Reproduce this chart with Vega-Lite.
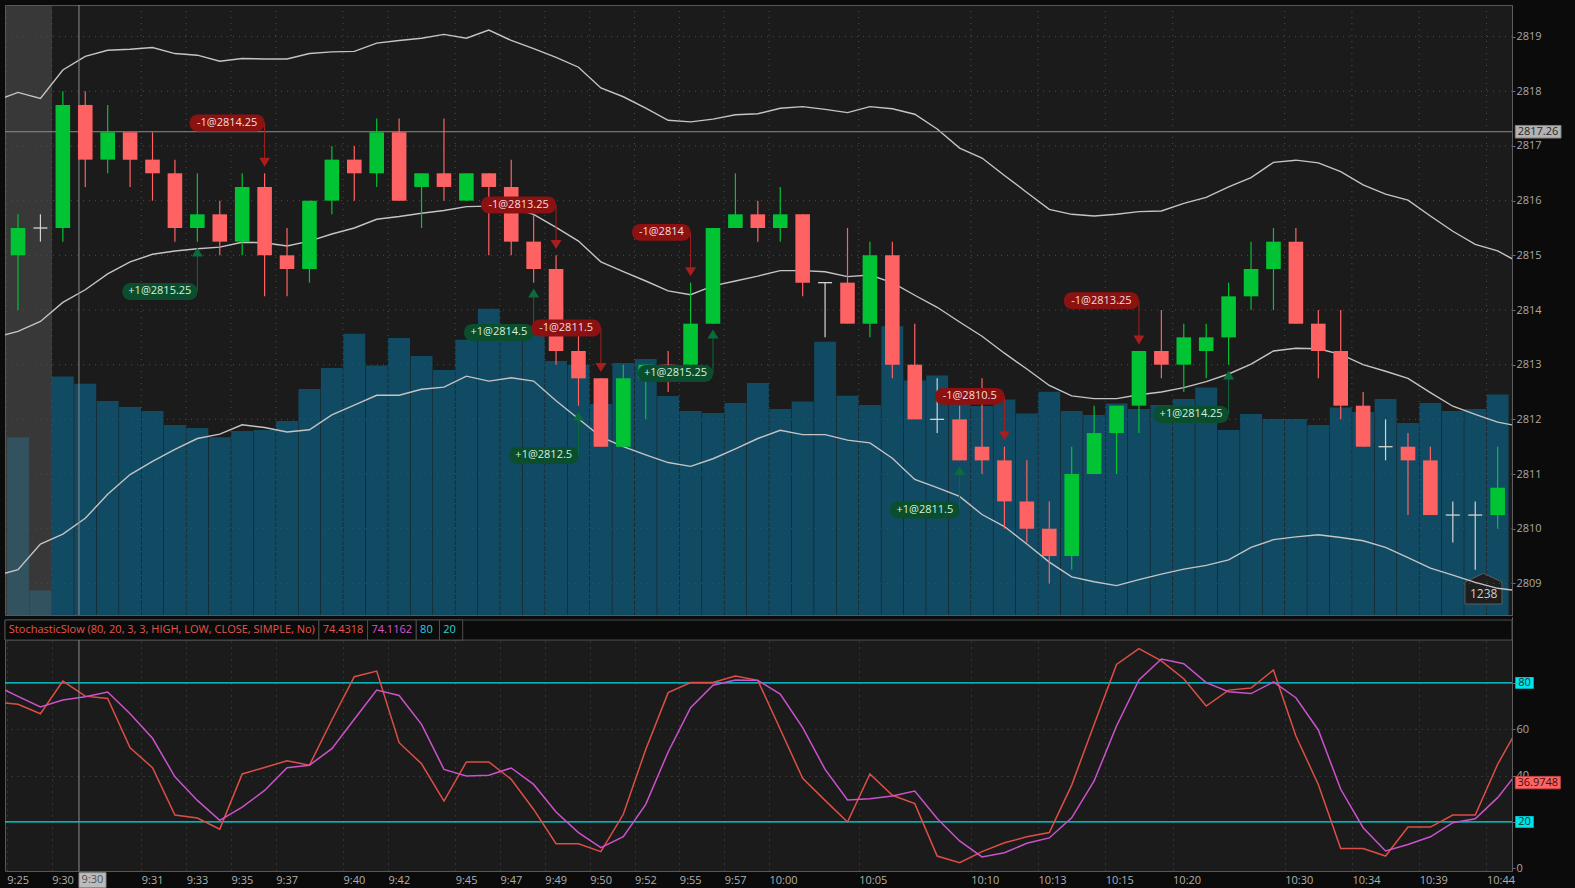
{
  "$schema": "https://vega.github.io/schema/vega-lite/v6.json",
  "background": "#0b0b0b",
  "padding": {"left": 3, "top": 4, "right": 0, "bottom": 0},
  "spacing": 0,
  "config": {
    "font": "Open Sans",
    "view": {"fill": "#1b1b1b", "stroke": "#575757"},
    "scale": {"continuousPadding": 0},
    "axis": {"labelFont": "Open Sans", "labelFontSize": 11, "labelColor": "#a9a9a9", "domainColor": "#5f5f5f", "tickColor": "#6f6f6f", "tickSize": 3, "labelPadding": 1, "gridColor": "#4d4d4d", "gridDash": [1, 5]}
  },
  "datasets": {
    "bars": [
      {"i": 0, "o": 2815, "h": 2815.75, "l": 2814, "c": 2815.5, "v": 998},
      {"i": 1, "o": 2815.5, "h": 2815.75, "l": 2815.25, "c": 2815.5, "v": 138},
      {"i": 2, "o": 2815.5, "h": 2818, "l": 2815.25, "c": 2817.75, "v": 1338},
      {"i": 3, "o": 2817.75, "h": 2818, "l": 2816.25, "c": 2816.75, "v": 1298},
      {"i": 4, "o": 2816.75, "h": 2817.75, "l": 2816.5, "c": 2817.25, "v": 1201},
      {"i": 5, "o": 2817.25, "h": 2817.25, "l": 2816.25, "c": 2816.75, "v": 1167},
      {"i": 6, "o": 2816.75, "h": 2817.25, "l": 2816, "c": 2816.5, "v": 1145},
      {"i": 7, "o": 2816.5, "h": 2816.75, "l": 2815.25, "c": 2815.5, "v": 1066},
      {"i": 8, "o": 2815.5, "h": 2816.5, "l": 2815.25, "c": 2815.75, "v": 1049},
      {"i": 9, "o": 2815.75, "h": 2816, "l": 2815, "c": 2815.25, "v": 998},
      {"i": 10, "o": 2815.25, "h": 2816.5, "l": 2815, "c": 2816.25, "v": 1032},
      {"i": 11, "o": 2816.25, "h": 2816.5, "l": 2814.25, "c": 2815, "v": 1038},
      {"i": 12, "o": 2815, "h": 2815.5, "l": 2814.25, "c": 2814.75, "v": 1088},
      {"i": 13, "o": 2814.75, "h": 2816, "l": 2814.5, "c": 2816, "v": 1268},
      {"i": 14, "o": 2816, "h": 2817, "l": 2815.75, "c": 2816.75, "v": 1386},
      {"i": 15, "o": 2816.75, "h": 2817, "l": 2816, "c": 2816.5, "v": 1578},
      {"i": 16, "o": 2816.5, "h": 2817.5, "l": 2816.25, "c": 2817.25, "v": 1400},
      {"i": 17, "o": 2817.25, "h": 2817.5, "l": 2816, "c": 2816, "v": 1555},
      {"i": 18, "o": 2816.25, "h": 2816.5, "l": 2815.5, "c": 2816.5, "v": 1454},
      {"i": 19, "o": 2816.5, "h": 2817.5, "l": 2816, "c": 2816.25, "v": 1375},
      {"i": 20, "o": 2816, "h": 2816.5, "l": 2816, "c": 2816.5, "v": 1544},
      {"i": 21, "o": 2816.5, "h": 2816.5, "l": 2815, "c": 2816.25, "v": 1718},
      {"i": 22, "o": 2816.25, "h": 2816.75, "l": 2815, "c": 2815.25, "v": 1583},
      {"i": 23, "o": 2815.25, "h": 2815.75, "l": 2814.5, "c": 2814.75, "v": 1583},
      {"i": 24, "o": 2814.75, "h": 2815, "l": 2813, "c": 2813.25, "v": 1426},
      {"i": 25, "o": 2813.25, "h": 2813.75, "l": 2812.25, "c": 2812.75, "v": 1403},
      {"i": 26, "o": 2812.75, "h": 2812.75, "l": 2811.5, "c": 2811.5, "v": 1184},
      {"i": 27, "o": 2811.5, "h": 2813, "l": 2811.5, "c": 2812.75, "v": 1414},
      {"i": 28, "o": 2812.75, "h": 2813, "l": 2812, "c": 2813, "v": 1437},
      {"i": 29, "o": 2813, "h": 2813.25, "l": 2812.5, "c": 2812.75, "v": 1229},
      {"i": 30, "o": 2813, "h": 2814.5, "l": 2813, "c": 2813.75, "v": 1145},
      {"i": 31, "o": 2813.75, "h": 2815.5, "l": 2813.75, "c": 2815.5, "v": 1133},
      {"i": 32, "o": 2815.5, "h": 2816.5, "l": 2815.5, "c": 2815.75, "v": 1190},
      {"i": 33, "o": 2815.75, "h": 2816, "l": 2815.25, "c": 2815.5, "v": 1302},
      {"i": 34, "o": 2815.5, "h": 2816.25, "l": 2815.25, "c": 2815.75, "v": 1156},
      {"i": 35, "o": 2815.75, "h": 2815.75, "l": 2814.25, "c": 2814.5, "v": 1198},
      {"i": 36, "o": 2814.5, "h": 2814.5, "l": 2813.5, "c": 2814.5, "v": 1533},
      {"i": 37, "o": 2814.5, "h": 2815.5, "l": 2813.75, "c": 2813.75, "v": 1231},
      {"i": 38, "o": 2813.75, "h": 2815.25, "l": 2813.5, "c": 2815, "v": 1178},
      {"i": 39, "o": 2815, "h": 2815.25, "l": 2812.75, "c": 2813, "v": 1620},
      {"i": 40, "o": 2813, "h": 2813.75, "l": 2812, "c": 2812, "v": 1316},
      {"i": 41, "o": 2812, "h": 2812.75, "l": 2811.75, "c": 2812, "v": 1344},
      {"i": 42, "o": 2812, "h": 2812.25, "l": 2811.25, "c": 2811.25, "v": 1206},
      {"i": 43, "o": 2811.5, "h": 2812.75, "l": 2811, "c": 2811.25, "v": 1173},
      {"i": 44, "o": 2811.25, "h": 2811.5, "l": 2810, "c": 2810.5, "v": 1209},
      {"i": 45, "o": 2810.5, "h": 2811.25, "l": 2809.75, "c": 2810, "v": 1131},
      {"i": 46, "o": 2810, "h": 2810.5, "l": 2809, "c": 2809.5, "v": 1253},
      {"i": 47, "o": 2809.5, "h": 2811.5, "l": 2809.25, "c": 2811, "v": 1145},
      {"i": 48, "o": 2811, "h": 2812.25, "l": 2811, "c": 2811.75, "v": 1122},
      {"i": 49, "o": 2811.75, "h": 2812.25, "l": 2811, "c": 2812.25, "v": 1187},
      {"i": 50, "o": 2812.25, "h": 2813.25, "l": 2811.75, "c": 2813.25, "v": 1156},
      {"i": 51, "o": 2813.25, "h": 2814, "l": 2812.75, "c": 2813, "v": 1178},
      {"i": 52, "o": 2813, "h": 2813.75, "l": 2812.5, "c": 2813.5, "v": 1212},
      {"i": 53, "o": 2813.25, "h": 2813.75, "l": 2812.75, "c": 2813.5, "v": 1276},
      {"i": 54, "o": 2813.5, "h": 2814.5, "l": 2813, "c": 2814.25, "v": 1038},
      {"i": 55, "o": 2814.25, "h": 2815.25, "l": 2814, "c": 2814.75, "v": 1128},
      {"i": 56, "o": 2814.75, "h": 2815.5, "l": 2814, "c": 2815.25, "v": 1100},
      {"i": 57, "o": 2815.25, "h": 2815.5, "l": 2813.75, "c": 2813.75, "v": 1100},
      {"i": 58, "o": 2813.75, "h": 2814, "l": 2812.75, "c": 2813.25, "v": 1066},
      {"i": 59, "o": 2813.25, "h": 2814, "l": 2812, "c": 2812.25, "v": 1164},
      {"i": 60, "o": 2812.25, "h": 2812.5, "l": 2811.5, "c": 2811.5, "v": 1139},
      {"i": 61, "o": 2811.5, "h": 2812, "l": 2811.25, "c": 2811.5, "v": 1212},
      {"i": 62, "o": 2811.5, "h": 2811.75, "l": 2810.25, "c": 2811.25, "v": 1077},
      {"i": 63, "o": 2811.25, "h": 2811.5, "l": 2810.25, "c": 2810.25, "v": 1190},
      {"i": 64, "o": 2810.25, "h": 2810.5, "l": 2809.75, "c": 2810.25, "v": 1145},
      {"i": 65, "o": 2810.25, "h": 2810.5, "l": 2809.25, "c": 2810.25, "v": 1156},
      {"i": 66, "o": 2810.25, "h": 2811.5, "l": 2810, "c": 2810.75, "v": 1238}
    ],
    "ind": [
      {"i": -1, "u": 2817.83, "m": 2813.50, "lo": 2809.14, "k": 71.8, "d": 78.8},
      {"i": 0, "u": 2817.98, "m": 2813.61, "lo": 2809.25, "k": 70.8, "d": 74.2},
      {"i": 1, "u": 2817.87, "m": 2813.79, "lo": 2809.72, "k": 66.7, "d": 69.6},
      {"i": 2, "u": 2818.39, "m": 2814.14, "lo": 2809.90, "k": 80.8, "d": 72.6},
      {"i": 3, "u": 2818.64, "m": 2814.37, "lo": 2810.19, "k": 74.3, "d": 74.0},
      {"i": 4, "u": 2818.75, "m": 2814.66, "lo": 2810.63, "k": 73.3, "d": 76.1},
      {"i": 5, "u": 2818.77, "m": 2814.88, "lo": 2810.99, "k": 52.0, "d": 66.7},
      {"i": 6, "u": 2818.80, "m": 2815.02, "lo": 2811.23, "k": 43.4, "d": 56.1},
      {"i": 7, "u": 2818.69, "m": 2815.08, "lo": 2811.45, "k": 23.0, "d": 39.5},
      {"i": 8, "u": 2818.66, "m": 2815.12, "lo": 2811.65, "k": 21.7, "d": 29.3},
      {"i": 9, "u": 2818.55, "m": 2815.15, "lo": 2811.73, "k": 16.9, "d": 20.7},
      {"i": 10, "u": 2818.60, "m": 2815.24, "lo": 2811.90, "k": 40.7, "d": 26.4},
      {"i": 11, "u": 2818.59, "m": 2815.23, "lo": 2811.85, "k": 43.5, "d": 33.6},
      {"i": 12, "u": 2818.59, "m": 2815.17, "lo": 2811.77, "k": 46.4, "d": 43.4},
      {"i": 13, "u": 2818.69, "m": 2815.26, "lo": 2811.81, "k": 44.5, "d": 44.5},
      {"i": 14, "u": 2818.72, "m": 2815.39, "lo": 2812.08, "k": 64.0, "d": 51.6},
      {"i": 15, "u": 2818.73, "m": 2815.50, "lo": 2812.26, "k": 82.7, "d": 64.3},
      {"i": 16, "u": 2818.88, "m": 2815.66, "lo": 2812.44, "k": 85.1, "d": 76.9},
      {"i": 17, "u": 2818.93, "m": 2815.71, "lo": 2812.44, "k": 54.2, "d": 74.6},
      {"i": 18, "u": 2818.97, "m": 2815.77, "lo": 2812.55, "k": 45.1, "d": 62.1},
      {"i": 19, "u": 2819.04, "m": 2815.82, "lo": 2812.59, "k": 29.0, "d": 42.7},
      {"i": 20, "u": 2818.97, "m": 2815.89, "lo": 2812.79, "k": 45.9, "d": 39.8},
      {"i": 21, "u": 2819.12, "m": 2815.90, "lo": 2812.70, "k": 45.9, "d": 40.2},
      {"i": 22, "u": 2818.93, "m": 2815.87, "lo": 2812.76, "k": 38.4, "d": 43.3},
      {"i": 23, "u": 2818.78, "m": 2815.75, "lo": 2812.70, "k": 25.4, "d": 36.2},
      {"i": 24, "u": 2818.62, "m": 2815.51, "lo": 2812.34, "k": 10.6, "d": 24.3},
      {"i": 25, "u": 2818.44, "m": 2815.26, "lo": 2812.01, "k": 10.6, "d": 15.4},
      {"i": 26, "u": 2818.06, "m": 2814.88, "lo": 2811.68, "k": 7.2, "d": 8.9},
      {"i": 27, "u": 2817.90, "m": 2814.70, "lo": 2811.50, "k": 23.3, "d": 13.6},
      {"i": 28, "u": 2817.69, "m": 2814.53, "lo": 2811.35, "k": 51.3, "d": 27.6},
      {"i": 29, "u": 2817.47, "m": 2814.35, "lo": 2811.21, "k": 75.8, "d": 50.2},
      {"i": 30, "u": 2817.44, "m": 2814.28, "lo": 2811.14, "k": 80.2, "d": 69.3},
      {"i": 31, "u": 2817.49, "m": 2814.44, "lo": 2811.28, "k": 80.2, "d": 79.0},
      {"i": 32, "u": 2817.57, "m": 2814.53, "lo": 2811.46, "k": 83.0, "d": 81.3},
      {"i": 33, "u": 2817.59, "m": 2814.62, "lo": 2811.65, "k": 81.1, "d": 81.1},
      {"i": 34, "u": 2817.69, "m": 2814.72, "lo": 2811.80, "k": 60.0, "d": 75.2},
      {"i": 35, "u": 2817.72, "m": 2814.72, "lo": 2811.72, "k": 38.8, "d": 60.7},
      {"i": 36, "u": 2817.67, "m": 2814.70, "lo": 2811.72, "k": 29.3, "d": 42.7},
      {"i": 37, "u": 2817.61, "m": 2814.61, "lo": 2811.62, "k": 20.0, "d": 29.5},
      {"i": 38, "u": 2817.72, "m": 2814.64, "lo": 2811.57, "k": 40.7, "d": 30.0},
      {"i": 39, "u": 2817.68, "m": 2814.50, "lo": 2811.29, "k": 31.5, "d": 31.2},
      {"i": 40, "u": 2817.58, "m": 2814.27, "lo": 2810.90, "k": 27.9, "d": 33.3},
      {"i": 41, "u": 2817.31, "m": 2814.05, "lo": 2810.75, "k": 5.3, "d": 21.5},
      {"i": 42, "u": 2816.96, "m": 2813.78, "lo": 2810.59, "k": 2.4, "d": 11.8},
      {"i": 43, "u": 2816.78, "m": 2813.52, "lo": 2810.26, "k": 7.2, "d": 4.9},
      {"i": 44, "u": 2816.46, "m": 2813.21, "lo": 2810.04, "k": 11.0, "d": 6.7},
      {"i": 45, "u": 2816.15, "m": 2812.92, "lo": 2809.72, "k": 13.6, "d": 10.8},
      {"i": 46, "u": 2815.84, "m": 2812.62, "lo": 2809.39, "k": 15.4, "d": 13.1},
      {"i": 47, "u": 2815.75, "m": 2812.43, "lo": 2809.12, "k": 35.9, "d": 21.8},
      {"i": 48, "u": 2815.72, "m": 2812.38, "lo": 2809.03, "k": 62.1, "d": 37.7},
      {"i": 49, "u": 2815.75, "m": 2812.38, "lo": 2808.96, "k": 88.0, "d": 61.4},
      {"i": 50, "u": 2815.80, "m": 2812.45, "lo": 2809.07, "k": 94.8, "d": 81.3},
      {"i": 51, "u": 2815.81, "m": 2812.50, "lo": 2809.17, "k": 89.5, "d": 90.3},
      {"i": 52, "u": 2815.95, "m": 2812.58, "lo": 2809.26, "k": 81.8, "d": 88.3},
      {"i": 53, "u": 2816.06, "m": 2812.69, "lo": 2809.33, "k": 70.0, "d": 80.1},
      {"i": 54, "u": 2816.25, "m": 2812.83, "lo": 2809.43, "k": 76.9, "d": 76.2},
      {"i": 55, "u": 2816.42, "m": 2813.01, "lo": 2809.66, "k": 77.8, "d": 75.4},
      {"i": 56, "u": 2816.70, "m": 2813.25, "lo": 2809.80, "k": 85.6, "d": 80.4},
      {"i": 57, "u": 2816.74, "m": 2813.30, "lo": 2809.85, "k": 57.1, "d": 73.6},
      {"i": 58, "u": 2816.69, "m": 2813.29, "lo": 2809.89, "k": 36.2, "d": 59.7},
      {"i": 59, "u": 2816.53, "m": 2813.19, "lo": 2809.84, "k": 8.5, "d": 34.1},
      {"i": 60, "u": 2816.29, "m": 2813.00, "lo": 2809.78, "k": 8.5, "d": 17.5},
      {"i": 61, "u": 2816.12, "m": 2812.88, "lo": 2809.66, "k": 5.3, "d": 7.5},
      {"i": 62, "u": 2816.01, "m": 2812.75, "lo": 2809.47, "k": 17.8, "d": 10.3},
      {"i": 63, "u": 2815.72, "m": 2812.49, "lo": 2809.28, "k": 17.8, "d": 13.6},
      {"i": 64, "u": 2815.44, "m": 2812.24, "lo": 2809.15, "k": 23.0, "d": 19.7},
      {"i": 65, "u": 2815.20, "m": 2812.09, "lo": 2809.02, "k": 23.0, "d": 21.4},
      {"i": 66, "u": 2815.08, "m": 2811.95, "lo": 2808.91, "k": 44.9, "d": 30.5},
      {"i": 67, "u": 2814.86, "m": 2811.87, "lo": 2808.86, "k": 62.1, "d": 42.8}
    ],
    "ticks": [
      {"t": -0.5}, {"t": 1.5}, {"t": 5.5}, {"t": 7.5}, {"t": 9.5}, {"t": 11.5}, {"t": 14.5}, {"t": 16.5},
      {"t": 19.5}, {"t": 21.5}, {"t": 23.5}, {"t": 25.5}, {"t": 27.5}, {"t": 29.5}, {"t": 31.5}, {"t": 33.5},
      {"t": 37.5}, {"t": 42.5}, {"t": 45.5}, {"t": 48.5}, {"t": 51.5}, {"t": 56.5}, {"t": 59.5}, {"t": 62.5}, {"t": 65.5}
    ],
    "trades": [
      {"i": 8, "side": "buy", "qty": 1, "price": 2815.25},
      {"i": 11, "side": "sell", "qty": 1, "price": 2814.25},
      {"i": 23, "side": "buy", "qty": 1, "price": 2814.5},
      {"i": 24, "side": "sell", "qty": 1, "price": 2813.25},
      {"i": 25, "side": "buy", "qty": 1, "price": 2812.5},
      {"i": 26, "side": "sell", "qty": 1, "price": 2811.5},
      {"i": 30, "side": "sell", "qty": 1, "price": 2814},
      {"i": 31, "side": "buy", "qty": 1, "price": 2815.25},
      {"i": 42, "side": "buy", "qty": 1, "price": 2811.5},
      {"i": 44, "side": "sell", "qty": 1, "price": 2810.5},
      {"i": 50, "side": "sell", "qty": 1, "price": 2813.25},
      {"i": 54, "side": "buy", "qty": 1, "price": 2814.25}
    ],
    "crosshair": [{"i": 2.72, "p": 2817.26, "t": "9:30"}],
    "sessions": [{"start": -1, "end": 1.52, "session": "pre-market"}],
    "stochLegend": [
      {"n": 0, "label": "StochasticSlow (80, 20, 3, 3, HIGH, LOW, CLOSE, SIMPLE, No)", "role": "name"},
      {"n": 1, "label": "74.4318", "role": "k"},
      {"n": 2, "label": "74.1162", "role": "d"},
      {"n": 3, "label": "80", "role": "level"},
      {"n": 4, "label": "20", "role": "level"}
    ],
    "levels": [{"v": 80}, {"v": 20}],
    "readout": [{"v": 36.9748}]
  },
  "vconcat": [
    {
      "width": 1507,
      "height": 610,
      "resolve": {"scale": {"y": "independent"}},
      "layer": [
        {
          "data": {"name": "bars"},
          "layer": [
            {
              "mark": {"type": "bar", "size": 21.9, "color": "#114a63"},
              "encoding": {
                "x": {"field": "i", "type": "quantitative", "scale": {"domain": [-0.58, 66.64], "nice": false, "zero": false, "padding": 0}, "axis": null},
                "y": {"field": "v", "type": "quantitative", "scale": {"domain": [0, 3423], "nice": false}, "axis": null}
              }
            },
            {
              "transform": [{"filter": "datum.i === 66"}],
              "mark": {"type": "point", "shape": "M -3.27 -1.1 L -3.27 -3.3 L -1.42 -4.17 L 0.43 -3.3 L 0.43 -1.1 Z", "size": 400, "filled": true, "fill": "#1e1e1e", "stroke": "#5c5c5c", "strokeWidth": 1, "opacity": 1},
              "encoding": {
                "x": {"field": "i", "type": "quantitative", "scale": {"domain": [-0.58, 66.64], "nice": false, "zero": false, "padding": 0}, "axis": null},
                "y": {"datum": 0, "type": "quantitative", "scale": {"domain": [0, 3423], "nice": false}, "axis": null}
              }
            },
            {
              "transform": [{"filter": "datum.i === 66"}],
              "mark": {"type": "text", "dx": -14, "dy": -21, "align": "center", "baseline": "middle", "fontSize": 12, "color": "#d0d0d0"},
              "encoding": {
                "x": {"field": "i", "type": "quantitative", "scale": {"domain": [-0.58, 66.64], "nice": false, "zero": false, "padding": 0}, "axis": null},
                "y": {"datum": 0, "type": "quantitative", "scale": {"domain": [0, 3423], "nice": false}, "axis": null},
                "text": {"field": "v", "type": "quantitative", "format": "d"}
              }
            }
          ]
        },
        {
          "layer": [
            {
              "data": {"name": "sessions"},
              "mark": {"type": "rect", "color": "#5e5e5e", "opacity": 0.45, "clip": true},
              "encoding": {
                "x": {"field": "start", "type": "quantitative", "scale": {"domain": [-0.58, 66.64], "nice": false, "zero": false, "padding": 0}, "axis": null},
                "x2": {"field": "end"}
              }
            },
            {
              "data": {"values": [{"p": 2809}, {"p": 2810}, {"p": 2811}, {"p": 2812}, {"p": 2813}, {"p": 2814}, {"p": 2815}, {"p": 2816}, {"p": 2817}, {"p": 2818}, {"p": 2819}]},
              "mark": {"type": "rule", "color": "#4d4d4d", "strokeDash": [1, 5]},
              "encoding": {
                "y": {"field": "p", "type": "quantitative", "scale": {"domain": [2808.422, 2819.578], "nice": false, "zero": false},
                  "axis": {"orient": "right", "title": null, "values": [2809, 2810, 2811, 2812, 2813, 2814, 2815, 2816, 2817, 2818, 2819], "format": "d", "grid": false, "minExtent": 65, "maxExtent": 65}}
              }
            },
            {
              "data": {"name": "ticks"},
              "mark": {"type": "rule", "color": "#4d4d4d", "strokeDash": [1, 5]},
              "encoding": {
                "x": {"field": "t", "type": "quantitative", "scale": {"domain": [-0.58, 66.64], "nice": false, "zero": false, "padding": 0}, "axis": null}
              }
            },
            {
              "data": {"name": "ind"},
              "transform": [{"fold": ["u", "m", "lo"], "as": ["band", "val"]}],
              "mark": {"type": "line", "color": "#c4c4c4", "strokeWidth": 1.4, "clip": true},
              "encoding": {
                "x": {"field": "i", "type": "quantitative", "scale": {"domain": [-0.58, 66.64], "nice": false, "zero": false, "padding": 0}, "axis": null},
                "y": {"field": "val", "type": "quantitative", "scale": {"domain": [2808.422, 2819.578], "nice": false, "zero": false}},
                "detail": {"field": "band"}
              }
            },
            {
              "data": {"name": "crosshair"},
              "layer": [
                {
                  "mark": {"type": "rule", "color": "#8c8c8c"},
                  "encoding": {"y": {"field": "p", "type": "quantitative", "scale": {"domain": [2808.422, 2819.578], "nice": false, "zero": false}}}
                },
                {
                  "mark": {"type": "rule", "color": "#8c8c8c"},
                  "encoding": {"x": {"field": "i", "type": "quantitative", "scale": {"domain": [-0.58, 66.64], "nice": false, "zero": false, "padding": 0}, "axis": null}}
                }
              ]
            },
            {
              "data": {"name": "bars"},
              "layer": [
                {
                  "mark": {"type": "rule", "strokeWidth": 1.2},
                  "encoding": {
                    "x": {"field": "i", "type": "quantitative", "scale": {"domain": [-0.58, 66.64], "nice": false, "zero": false, "padding": 0}, "axis": null},
                    "y": {"field": "l", "type": "quantitative", "scale": {"domain": [2808.422, 2819.578], "nice": false, "zero": false}},
                    "y2": {"field": "h"},
                    "color": {"condition": [{"test": "datum.c > datum.o", "value": "#00c434"}, {"test": "datum.c < datum.o", "value": "#ff6262"}], "value": "#d4d4d4"}
                  }
                },
                {
                  "transform": [{"filter": "datum.o !== datum.c"}],
                  "mark": {"type": "bar", "size": 14.6},
                  "encoding": {
                    "x": {"field": "i", "type": "quantitative", "scale": {"domain": [-0.58, 66.64], "nice": false, "zero": false, "padding": 0}, "axis": null},
                    "y": {"field": "o", "type": "quantitative", "scale": {"domain": [2808.422, 2819.578], "nice": false, "zero": false}},
                    "y2": {"field": "c"},
                    "color": {"condition": [{"test": "datum.c > datum.o", "value": "#00c434"}, {"test": "datum.c < datum.o", "value": "#ff6262"}], "value": "#d4d4d4"}
                  }
                },
                {
                  "transform": [{"filter": "datum.o === datum.c"}],
                  "mark": {"type": "tick", "orient": "horizontal", "size": 14, "thickness": 1.3, "opacity": 1, "color": "#d4d4d4"},
                  "encoding": {
                    "x": {"field": "i", "type": "quantitative", "scale": {"domain": [-0.58, 66.64], "nice": false, "zero": false, "padding": 0}, "axis": null},
                    "y": {"field": "c", "type": "quantitative", "scale": {"domain": [2808.422, 2819.578], "nice": false, "zero": false}}
                  }
                }
              ]
            },
            {
              "data": {"name": "trades"},
              "transform": [
                {"lookup": "i", "from": {"data": {"name": "bars"}, "key": "i", "fields": ["h", "l"]}},
                {"calculate": "(datum.side === 'sell' ? '-' : '+') + datum.qty + '@' + datum.price", "as": "label"},
                {"calculate": "datum.side === 'sell' ? datum.h + 0.2 : datum.l - 0.19", "as": "arrowY"},
                {"calculate": "datum.side === 'sell' ? datum.arrowY + 0.72 : datum.arrowY - 0.72", "as": "tagY"},
                {"calculate": "(5.5 * length(datum.label) + 20) / 22.42", "as": "w"},
                {"calculate": "datum.i - datum.w", "as": "x0"},
                {"calculate": "datum.i - datum.w / 2", "as": "xm"},
                {"calculate": "datum.tagY - 0.155", "as": "ty0"},
                {"calculate": "datum.tagY + 0.155", "as": "ty1"}
              ],
              "layer": [
                {
                  "mark": {"type": "rule", "strokeWidth": 1},
                  "encoding": {
                    "x": {"field": "i", "type": "quantitative", "scale": {"domain": [-0.58, 66.64], "nice": false, "zero": false, "padding": 0}, "axis": null},
                    "y": {"field": "tagY", "type": "quantitative", "scale": {"domain": [2808.422, 2819.578], "nice": false, "zero": false}},
                    "y2": {"field": "arrowY"},
                    "color": {"condition": {"test": "datum.side === 'sell'", "value": "#a81e1e"}, "value": "#0c6b3c"}
                  }
                },
                {
                  "mark": {"type": "point", "size": 100, "filled": true, "opacity": 1},
                  "encoding": {
                    "x": {"field": "i", "type": "quantitative", "scale": {"domain": [-0.58, 66.64], "nice": false, "zero": false, "padding": 0}, "axis": null},
                    "y": {"field": "arrowY", "type": "quantitative", "scale": {"domain": [2808.422, 2819.578], "nice": false, "zero": false}},
                    "shape": {"condition": {"test": "datum.side === 'sell'", "value": "M -1.1 -0.9 L 1.1 -0.9 L 0 0.9 Z"}, "value": "M -1.1 0.9 L 1.1 0.9 L 0 -0.9 Z"},
                    "color": {"condition": {"test": "datum.side === 'sell'", "value": "#a81e1e"}, "value": "#0c6b3c"}
                  }
                },
                {
                  "mark": {"type": "rect", "cornerRadius": 8},
                  "encoding": {
                    "x": {"field": "x0", "type": "quantitative", "scale": {"domain": [-0.58, 66.64], "nice": false, "zero": false, "padding": 0}, "axis": null},
                    "x2": {"field": "i"},
                    "y": {"field": "ty0", "type": "quantitative", "scale": {"domain": [2808.422, 2819.578], "nice": false, "zero": false}},
                    "y2": {"field": "ty1"},
                    "color": {"condition": {"test": "datum.side === 'sell'", "value": "#8c1212"}, "value": "#0b4e2d"}
                  }
                },
                {
                  "mark": {"type": "text", "fontSize": 11, "align": "center", "baseline": "middle"},
                  "encoding": {
                    "x": {"field": "xm", "type": "quantitative", "scale": {"domain": [-0.58, 66.64], "nice": false, "zero": false, "padding": 0}, "axis": null},
                    "y": {"field": "tagY", "type": "quantitative", "scale": {"domain": [2808.422, 2819.578], "nice": false, "zero": false}},
                    "text": {"field": "label", "type": "nominal"},
                    "color": {"condition": {"test": "datum.side === 'sell'", "value": "#f5dede"}, "value": "#d6f0de"}
                  }
                }
              ]
            },
            {
              "data": {"name": "crosshair"},
              "layer": [
                {
                  "mark": {"type": "point", "shape": "M 0.33 -0.63 L 4.9 -0.63 L 4.9 0.63 L 0.33 0.63 Z", "size": 400, "filled": true, "fill": "#b3b3b3", "stroke": "#808080", "strokeWidth": 1, "opacity": 1},
                  "encoding": {
                    "x": {"datum": 66.64, "type": "quantitative", "scale": {"domain": [-0.58, 66.64], "nice": false, "zero": false, "padding": 0}, "axis": null},
                    "y": {"field": "p", "type": "quantitative", "scale": {"domain": [2808.422, 2819.578], "nice": false, "zero": false}}
                  }
                },
                {
                  "mark": {"type": "text", "dx": 26, "fontSize": 11, "color": "#262626", "align": "center", "baseline": "middle"},
                  "encoding": {
                    "x": {"datum": 66.64, "type": "quantitative", "scale": {"domain": [-0.58, 66.64], "nice": false, "zero": false, "padding": 0}, "axis": null},
                    "y": {"field": "p", "type": "quantitative", "scale": {"domain": [2808.422, 2819.578], "nice": false, "zero": false}},
                    "text": {"field": "p", "type": "quantitative", "format": ".2f"}
                  }
                }
              ]
            }
          ]
        }
      ]
    },
    {
      "width": 1507,
      "height": 254,
      "layer": [
        {
          "data": {"values": [{"bottom": 98.5, "top": 108.45}]},
          "mark": {"type": "rect", "color": "#0b0b0b"},
          "encoding": {
            "y": {"field": "bottom", "type": "quantitative", "scale": {"domain": [-1.17, 108.45], "nice": false, "zero": false}},
            "y2": {"field": "top"}
          }
        },
        {
          "data": {"values": [{"bottom": 98.5, "top": 107.15}]},
          "mark": {"type": "rect", "fill": "#0b0b0b", "stroke": "#4f4f4f", "strokeWidth": 1},
          "encoding": {
            "y": {"field": "bottom", "type": "quantitative", "scale": {"domain": [-1.17, 108.45], "nice": false, "zero": false}},
            "y2": {"field": "top"}
          }
        },
        {
          "data": {"name": "stochLegend"},
          "transform": [
            {"calculate": "(5.1 * length(datum.label) + 13) / 22.42", "as": "w"},
            {"window": [{"op": "sum", "field": "w", "as": "cum"}], "sort": [{"field": "n"}], "frame": [null, 0]},
            {"calculate": "-0.58 + datum.cum", "as": "x1"},
            {"calculate": "datum.x1 - datum.w", "as": "x0"},
            {"calculate": "datum.x0 + 0.17", "as": "xt"}
          ],
          "layer": [
            {
              "mark": {"type": "rect", "fill": "#0b0b0b", "stroke": "#4f4f4f", "strokeWidth": 1},
              "encoding": {
                "x": {"field": "x0", "type": "quantitative", "scale": {"domain": [-0.58, 66.64], "nice": false, "zero": false, "padding": 0}},
                "x2": {"field": "x1"},
                "y": {"datum": 98.5, "type": "quantitative", "scale": {"domain": [-1.17, 108.45], "nice": false, "zero": false}},
                "y2": {"datum": 107.15}
              }
            },
            {
              "mark": {"type": "text", "align": "left", "baseline": "middle", "fontSize": 11},
              "encoding": {
                "x": {"field": "xt", "type": "quantitative", "scale": {"domain": [-0.58, 66.64], "nice": false, "zero": false, "padding": 0}},
                "y": {"datum": 102.8, "type": "quantitative", "scale": {"domain": [-1.17, 108.45], "nice": false, "zero": false}},
                "text": {"field": "label", "type": "nominal"},
                "color": {"condition": [{"test": "datum.role === 'd'", "value": "#d457d4"}, {"test": "datum.role === 'level'", "value": "#2ed0dc"}], "value": "#e4554c"}
              }
            }
          ]
        },
        {
          "data": {"name": "levels"},
          "mark": {"type": "rule", "color": "#00e3e8", "strokeWidth": 1.3},
          "encoding": {
            "y": {"field": "v", "type": "quantitative", "scale": {"domain": [-1.17, 108.45], "nice": false, "zero": false}}
          }
        },
        {
          "data": {"name": "ind"},
          "layer": [
            {
              "mark": {"type": "line", "color": "#dd4f46", "strokeWidth": 1.5, "clip": true},
              "encoding": {
                "x": {"field": "i", "type": "quantitative", "scale": {"domain": [-0.58, 66.64], "nice": false, "zero": false, "padding": 0},
                  "axis": {"orient": "bottom", "title": null, "values": [-0.5, 1.5, 5.5, 7.5, 9.5, 11.5, 14.5, 16.5, 19.5, 21.5, 23.5, 25.5, 27.5, 29.5, 31.5, 33.5, 37.5, 42.5, 45.5, 48.5, 51.5, 56.5, 59.5, 62.5, 65.5],
                    "labelExpr": "['9:25','9:30','9:31','9:33','9:35','9:37','9:40','9:42','9:45','9:47','9:49','9:50','9:52','9:55','9:57','10:00','10:05','10:10','10:13','10:15','10:20','10:30','10:34','10:39','10:44'][indexof([-0.5,1.5,5.5,7.5,9.5,11.5,14.5,16.5,19.5,21.5,23.5,25.5,27.5,29.5,31.5,33.5,37.5,42.5,45.5,48.5,51.5,56.5,59.5,62.5,65.5], datum.value)]",
                    "grid": true, "ticks": false, "domain": false, "labelAlign": "left", "labelBaseline": "top", "labelDx": 1, "labelPadding": 3, "labelColor": "#b0b0b0", "labelOverlap": false, "labelFlush": false, "minExtent": 20, "maxExtent": 20}},
                "y": {"field": "k", "type": "quantitative", "scale": {"domain": [-1.17, 108.45], "nice": false, "zero": false},
                  "axis": {"orient": "right", "title": null, "values": [0, 20, 40, 60, 80], "grid": true,
                    "gridOpacity": {"condition": {"test": "datum.value === 40 || datum.value === 60", "value": 1}, "value": 0},
                    "minExtent": 65, "maxExtent": 65}}
              }
            },
            {
              "mark": {"type": "line", "color": "#cc52cc", "strokeWidth": 1.5, "clip": true},
              "encoding": {
                "x": {"field": "i", "type": "quantitative", "scale": {"domain": [-0.58, 66.64], "nice": false, "zero": false, "padding": 0}},
                "y": {"field": "d", "type": "quantitative", "scale": {"domain": [-1.17, 108.45], "nice": false, "zero": false}}
              }
            }
          ]
        },
        {
          "data": {"name": "crosshair"},
          "layer": [
            {
              "mark": {"type": "rule", "color": "#8c8c8c"},
              "encoding": {
                "x": {"field": "i", "type": "quantitative", "scale": {"domain": [-0.58, 66.64], "nice": false, "zero": false, "padding": 0}},
                "y": {"datum": -1.17, "type": "quantitative", "scale": {"domain": [-1.17, 108.45], "nice": false, "zero": false}},
                "y2": {"datum": 98.5}
              }
            },
            {
              "mark": {"type": "point", "shape": "M 0 0.17 L 2.7 0.17 L 2.7 1.67 L 0 1.67 Z", "size": 400, "filled": true, "fill": "#bcbcbc", "stroke": "#8a8a8a", "strokeWidth": 1, "opacity": 1},
              "encoding": {
                "x": {"field": "i", "type": "quantitative", "scale": {"domain": [-0.58, 66.64], "nice": false, "zero": false, "padding": 0}},
                "y": {"datum": -1.17, "type": "quantitative", "scale": {"domain": [-1.17, 108.45], "nice": false, "zero": false}}
              }
            },
            {
              "mark": {"type": "text", "dx": 13.5, "dy": 9.4, "align": "center", "baseline": "middle", "fontSize": 11, "color": "#505050"},
              "encoding": {
                "x": {"field": "i", "type": "quantitative", "scale": {"domain": [-0.58, 66.64], "nice": false, "zero": false, "padding": 0}},
                "y": {"datum": -1.17, "type": "quantitative", "scale": {"domain": [-1.17, 108.45], "nice": false, "zero": false}},
                "text": {"field": "t", "type": "nominal"}
              }
            }
          ]
        },
        {
          "data": {"name": "levels"},
          "layer": [
            {
              "mark": {"type": "point", "shape": "M 0.33 -0.58 L 2.17 -0.58 L 2.17 0.58 L 0.33 0.58 Z", "size": 400, "filled": true, "fill": "#00e3e8", "opacity": 1},
              "encoding": {
                "x": {"datum": 66.64, "type": "quantitative", "scale": {"domain": [-0.58, 66.64], "nice": false, "zero": false, "padding": 0}},
                "y": {"field": "v", "type": "quantitative", "scale": {"domain": [-1.17, 108.45], "nice": false, "zero": false}}
              }
            },
            {
              "mark": {"type": "text", "dx": 12.5, "align": "center", "baseline": "middle", "fontSize": 11, "color": "#083636"},
              "encoding": {
                "x": {"datum": 66.64, "type": "quantitative", "scale": {"domain": [-0.58, 66.64], "nice": false, "zero": false, "padding": 0}},
                "y": {"field": "v", "type": "quantitative", "scale": {"domain": [-1.17, 108.45], "nice": false, "zero": false}},
                "text": {"field": "v", "type": "quantitative", "format": "d"}
              }
            }
          ]
        },
        {
          "data": {"name": "readout"},
          "layer": [
            {
              "mark": {"type": "point", "shape": "M 0.33 -0.62 L 4.83 -0.62 L 4.83 0.62 L 0.33 0.62 Z", "size": 400, "filled": true, "fill": "#ff6464", "stroke": "#c84444", "strokeWidth": 1, "opacity": 1},
              "encoding": {
                "x": {"datum": 66.64, "type": "quantitative", "scale": {"domain": [-0.58, 66.64], "nice": false, "zero": false, "padding": 0}},
                "y": {"field": "v", "type": "quantitative", "scale": {"domain": [-1.17, 108.45], "nice": false, "zero": false}}
              }
            },
            {
              "mark": {"type": "text", "dx": 25.8, "align": "center", "baseline": "middle", "fontSize": 11, "color": "#3d0b0b"},
              "encoding": {
                "x": {"datum": 66.64, "type": "quantitative", "scale": {"domain": [-0.58, 66.64], "nice": false, "zero": false, "padding": 0}},
                "y": {"field": "v", "type": "quantitative", "scale": {"domain": [-1.17, 108.45], "nice": false, "zero": false}},
                "text": {"field": "v", "type": "quantitative", "format": ".4f"}
              }
            }
          ]
        }
      ]
    }
  ]
}
